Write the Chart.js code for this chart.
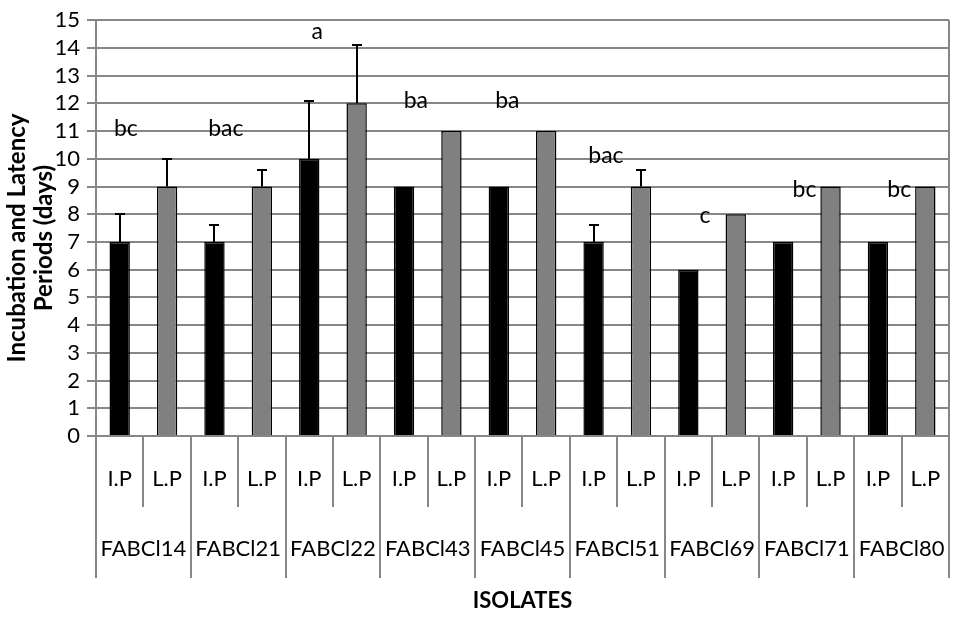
<!DOCTYPE html>
<html>
<head>
<meta charset="utf-8">
<title>Incubation and Latency Periods</title>
<script src="https://cdn.jsdelivr.net/npm/chart.js@4.4.0/dist/chart.umd.min.js"></script>
<style>
  html, body { margin: 0; padding: 0; background: #fff; }
  #wrap { width: 953px; height: 619px; }
</style>
</head>
<body>
<div id="wrap"><canvas id="chart"></canvas></div>
<script>
// ---- data ----
var isolates = ['FABCl14', 'FABCl21', 'FABCl22', 'FABCl43', 'FABCl45', 'FABCl51', 'FABCl69', 'FABCl71', 'FABCl80'];
var periods = ['I.P', 'L.P'];
var ipDays = [7, 7, 10, 9, 9, 7, 6, 7, 7];
var lpDays = [9, 9, 12, 11, 11, 9, 8, 9, 9];
var ipError = [1, 0.6, 2.1, 0, 0, 0.6, 0, 0, 0];
var lpError = [1, 0.6, 2.1, 0, 0, 0.6, 0, 0, 0];
var groupLetters = ['bc', 'bac', 'a', 'ba', 'ba', 'bac', 'c', 'bc', 'bc'];
var letterLevels = [10.83, 10.83, 14.32, 11.83, 11.83, 9.86, 7.7, 8.63, 8.63];
var yTicks = [0, 1, 2, 3, 4, 5, 6, 7, 8, 9, 10, 11, 12, 13, 14, 15];

// horizontal nudge of each letter, in category widths from the I.P bar
var letterNudge = [0.13, 0.24, 0.17, 0.25, 0.18, 0.26, 0.35, 0.45, 0.45];

var FONT = 'Lato, "Open Sans", sans-serif';
var GRID = '#878787';

// interleave I.P / L.P into one series
var labels = [], values = [], errors = [], fills = [];
isolates.forEach(function (name, g) {
  labels.push(periods[0], periods[1]);
  values.push(ipDays[g], lpDays[g]);
  errors.push(ipError[g], lpError[g]);
  fills.push('#000000', '#808080');
});

/* ---------- extras: error bars, letters, two-level x axis ---------- */
var overlay = {
  id: 'overlay',
  afterDatasetsDraw: function (chart) {
    var ctx = chart.ctx;
    var xs = chart.scales.x, ys = chart.scales.y, area = chart.chartArea;
    var step = xs.getPixelForValue(1) - xs.getPixelForValue(0);

    ctx.save();

    // error bars (upper only)
    ctx.strokeStyle = '#000';
    ctx.lineWidth = 2;
    values.forEach(function (v, i) {
      if (!errors[i]) return;
      var cx = Math.round(xs.getPixelForValue(i));
      var y0 = ys.getPixelForValue(v);
      var y1 = Math.round(ys.getPixelForValue(v + errors[i]));
      ctx.beginPath();
      ctx.moveTo(cx, y0); ctx.lineTo(cx, y1);
      ctx.moveTo(cx - 5, y1); ctx.lineTo(cx + 5, y1);
      ctx.stroke();
    });

    // right frame line
    ctx.strokeStyle = GRID;
    ctx.beginPath();
    ctx.moveTo(area.right, area.top);
    ctx.lineTo(area.right, area.bottom);
    ctx.stroke();

    // significance letters
    ctx.fillStyle = '#000';
    ctx.font = '23px ' + FONT;
    ctx.textAlign = 'center';
    ctx.textBaseline = 'alphabetic';
    groupLetters.forEach(function (t, g) {
      var px = xs.getPixelForValue(2 * g) + step * letterNudge[g];
      ctx.fillText(t, px, ys.getPixelForValue(letterLevels[g]));
    });

    // category separators
    ctx.strokeStyle = GRID;
    ctx.lineWidth = 2;
    for (var k = 0; k <= labels.length; k++) {
      var sx = Math.round(area.left + k * step);
      ctx.beginPath();
      ctx.moveTo(sx, area.bottom);
      ctx.lineTo(sx, k % 2 === 0 ? area.bottom + 142 : area.bottom + 71);
      ctx.stroke();
    }

    // I.P / L.P row
    ctx.font = '22px ' + FONT;
    ctx.textBaseline = 'middle';
    labels.forEach(function (t, i) {
      ctx.fillText(t, xs.getPixelForValue(i), area.bottom + 43);
    });
    // isolate row
    isolates.forEach(function (name, g) {
      ctx.fillText(name, area.left + (2 * g + 1) * step, area.bottom + 113);
    });

    // axis titles
    ctx.font = 'bold 22px ' + FONT;
    ctx.fillText('ISOLATES', (area.left + area.right) / 2, area.bottom + 165);
    ctx.font = 'bold 24px ' + FONT;
    ctx.translate(0, 238);
    ctx.rotate(-Math.PI / 2);
    ctx.fillText('Incubation and Latency', 0, 17);
    ctx.fillText('Periods (days)', 0, 44);

    ctx.restore();
  }
};

new Chart(document.getElementById('chart').getContext('2d'), {
  type: 'bar',
  data: {
    labels: labels,
    datasets: [{
      label: 'Days',
      data: values,
      backgroundColor: fills,
      borderColor: '#000',
      borderWidth: 1.5,
      barPercentage: 0.43,
      categoryPercentage: 1
    }]
  },
  options: {
    responsive: true,
    maintainAspectRatio: false,
    animation: false,
    devicePixelRatio: 1,
    layout: { padding: { left: 0, top: 19, right: 4, bottom: 0 } },
    plugins: { legend: { display: false }, tooltip: { enabled: false } },
    scales: {
      x: {
        ticks: { display: false },
        grid: { display: false },
        border: { display: false },
        afterFit: function (scale) { scale.height = 183; }
      },
      y: {
        min: yTicks[0],
        max: yTicks[yTicks.length - 1],
        afterBuildTicks: function (scale) {
          scale.ticks = yTicks.map(function (v) { return { value: v }; });
        },
        afterFit: function (scale) { scale.width = 96; },
        ticks: { color: '#000', padding: 7, autoSkip: false, font: { family: FONT, size: 22 } },
        grid: { color: GRID, lineWidth: 2, tickLength: 9 },
        border: { color: GRID, width: 2 }
      }
    }
  },
  plugins: [overlay]
});
</script>
</body>
</html>
